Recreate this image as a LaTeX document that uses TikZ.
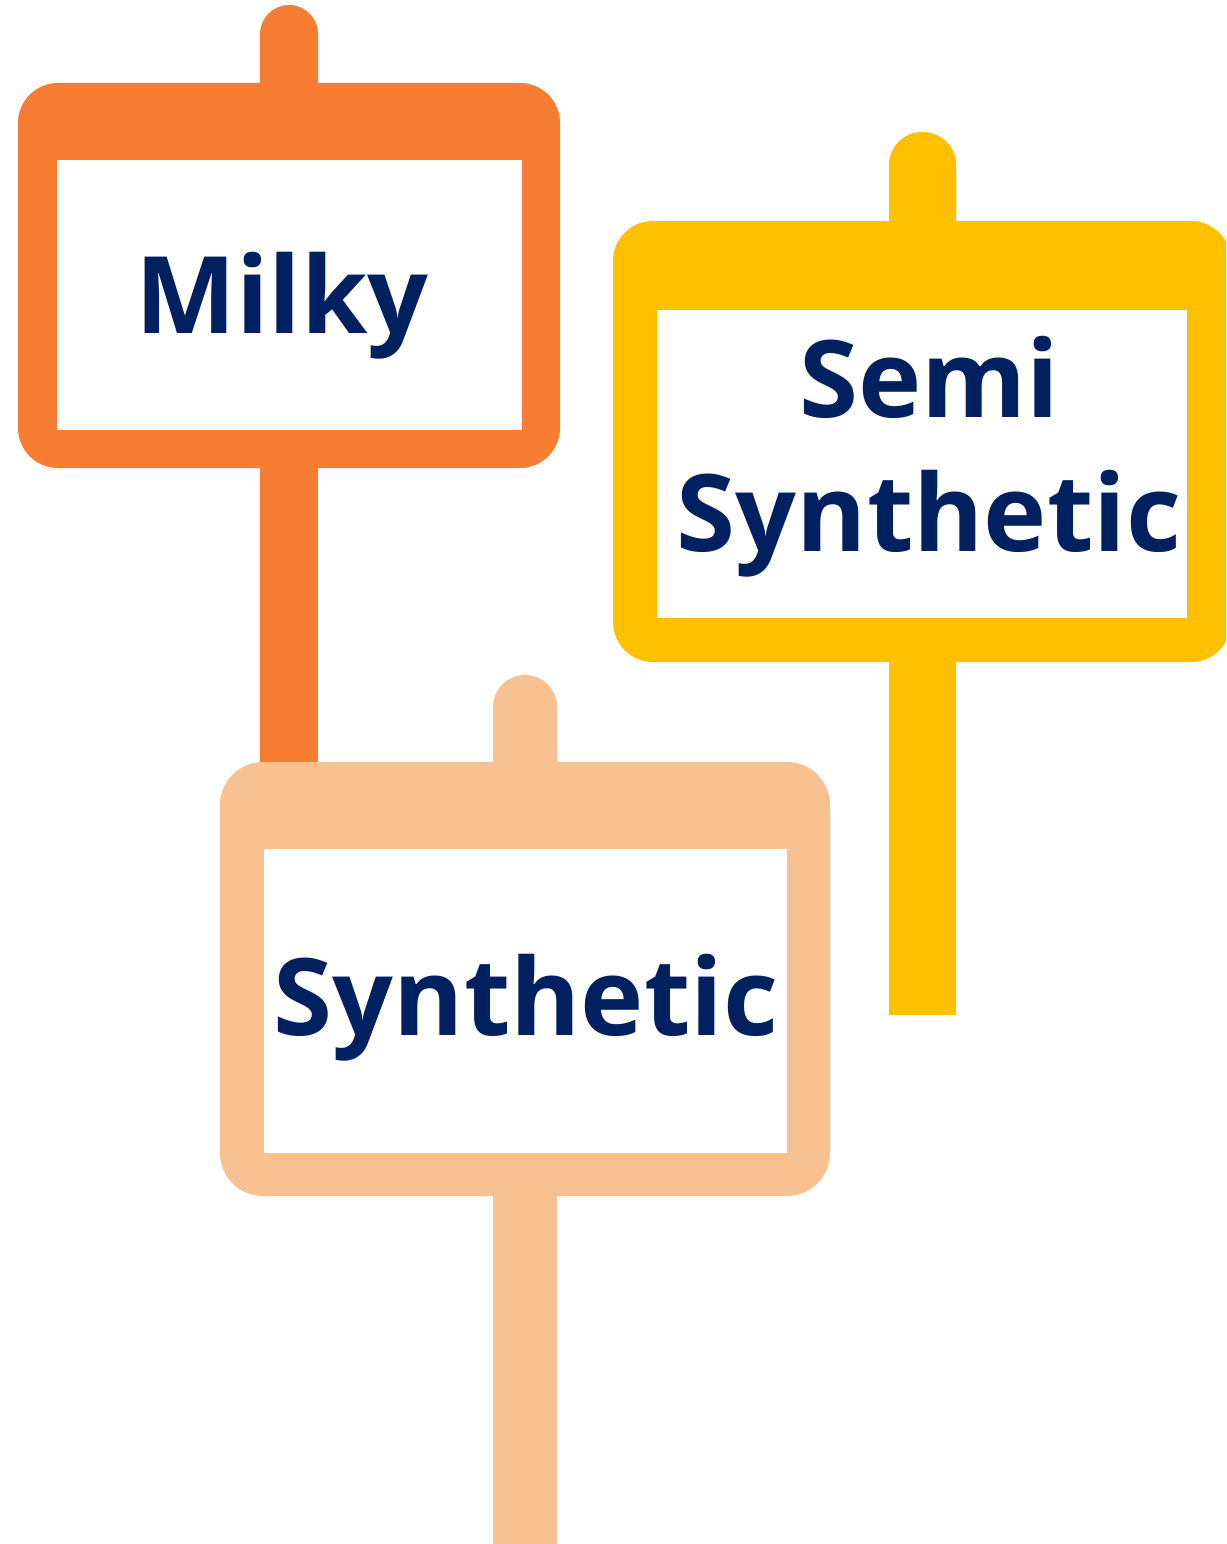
\documentclass[tikz,border=0pt]{standalone}
\usepackage{fontspec}
\newfontfamily\signfont{Open Sans}
\definecolor{signorange}{HTML}{F67D31}
\definecolor{signyellow}{HTML}{FFC000}
\definecolor{signpeach}{HTML}{F8C192}
\definecolor{signnavy}{HTML}{002060}
\begin{document}
\begin{tikzpicture}[x=1pt,y=-1pt,
  board/.style={fill=#1, draw=none, inner sep=0pt, rounded corners=40pt},
  panel/.style={fill=white, draw=none, inner sep=0pt},
  label/.style={text=signnavy, inner sep=0pt, font=\signfont\bfseries\fontsize{107}{134}\selectfont, align=center}]
\clip (0,0) rectangle (1226,1544);
% ---------- Milky (orange)
\fill[signorange, rounded corners=29pt] (260,120) -- (260,5) -- (318,5) -- (318,120) -- cycle;
\fill[signorange] (260,440) rectangle (318,800);
\node[board=signorange, minimum width=542pt, minimum height=385pt] (mboard) at (289,275.5) {};
\node[panel, minimum width=465pt, minimum height=270pt] (mpanel) at (289.5,295) {};
\node[label, anchor=base] (milky) at (282,333) {Milky};
% ---------- Semi Synthetic (yellow)
\fill[signyellow, rounded corners=33pt] (889,260) -- (889,132) -- (956,132) -- (956,260) -- cycle;
\fill[signyellow] (889,640) rectangle (956,1015);
\node[board=signyellow, minimum width=618pt, minimum height=441pt] (sboard) at (922,441.5) {};
\node[panel, minimum width=530pt, minimum height=308pt] (spanel) at (922,464) {};
\node[label, anchor=base] (semi) at (929,551) {Semi\\Synthetic};
% ---------- Synthetic (peach)
\fill[signpeach, rounded corners=32pt] (493,800) -- (493,675) -- (557,675) -- (557,800) -- cycle;
\fill[signpeach] (493,1170) rectangle (557,1544);
\node[board=signpeach, rounded corners=43pt, minimum width=610pt, minimum height=434pt] (pboard) at (525,979) {};
\node[panel, minimum width=523pt, minimum height=304pt] (ppanel) at (525.5,1001) {};
\node[label, anchor=base] (synth) at (526,1035) {Synthetic};
\end{tikzpicture}
\end{document}
